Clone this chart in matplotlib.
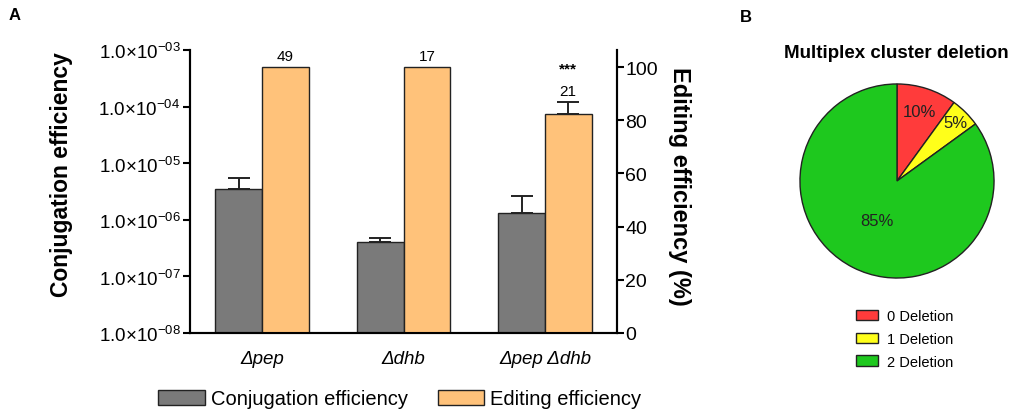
import numpy as np
import matplotlib
matplotlib.use("Agg")
import matplotlib.pyplot as plt
from matplotlib.patches import Patch

plt.rcParams['font.family'] = ['Liberation Sans', 'DejaVu Sans']
plt.rcParams['mathtext.fontset'] = 'custom'
plt.rcParams['mathtext.rm'] = 'Liberation Sans'

# data
strains = ['Δpep', 'Δdhb', 'Δpep Δdhb']
conj_eff = [3.5e-6, 4.1e-7, 1.3e-6]
conj_err = [2.0e-6, 0.7e-7, 1.3e-6]
edit_eff = [100, 100, 82.5]
edit_err = [0, 0, 4.5]
n_colonies = ['49', '17', '21']
signif = ['', '', '***']

pie_labels = ['0 Deletion', '1 Deletion', '2 Deletion']
pie_vals = [10, 5, 85]
pie_colors = ['#ff3b3b', '#ffff1a', '#1ec81e']

grey = '#7a7a7a'
orange = '#ffc27a'
edge = '#222222'

fig = plt.figure(figsize=(10.12, 4.14), dpi=100)

# ---- panel A
ax = fig.add_axes([190/1012, 1-334/414, 427/1012, 283/414])
ax.set_yscale('log')
ax.set_ylim(1e-8, 1e-3)
x = np.arange(len(strains))
w = 0.33
ax.bar(x - w/2, conj_eff, width=w, color=grey, edgecolor=edge, lw=1.0,
       yerr=[np.zeros(len(conj_err)), conj_err], capsize=8,
       error_kw=dict(elinewidth=1.4, capthick=1.4, ecolor=edge))
ax.set_xlim(-0.51, 2.51)
ax.set_yticks([1e-8, 1e-7, 1e-6, 1e-5, 1e-4, 1e-3])
ax.set_yticklabels([r'$1.0{\times}10^{-0%d}$' % k for k in [8, 7, 6, 5, 4, 3]], fontsize=13.5)
ax.yaxis.set_minor_locator(matplotlib.ticker.NullLocator())
ax.set_xticks(x)
ax.set_xticklabels(strains, style='italic', fontsize=13.5)
ax.tick_params(axis='x', length=0, pad=12)
ax.tick_params(axis='y', length=5, width=1.5, pad=2)
ax.spines['top'].set_visible(False)
for s in ['left', 'bottom', 'right']:
    ax.spines[s].set_linewidth(1.5)
fig.text(62/1012, 1-175/414, 'Conjugation efficiency', rotation=90, ha='center', va='center',
         fontsize=16.5, fontweight='bold')

ax2 = ax.twinx()
ax2.set_ylim(0, 106.4)
ax2.bar(x + w/2, edit_eff, width=w, color=orange, edgecolor=edge, lw=1.0)
for i in range(len(strains)):
    if edit_err[i] > 0:
        ax2.errorbar(x[i] + w/2, edit_eff[i], yerr=[[0], [edit_err[i]]], fmt='none',
                     ecolor=edge, elinewidth=1.4, capthick=1.4, capsize=8)
    top = edit_eff[i] + edit_err[i]
    ax2.text(x[i] + w/2, top + 1.5, n_colonies[i], ha='center', va='bottom', fontsize=11)
    if signif[i]:
        ax2.text(x[i] + w/2, top + 10, signif[i], ha='center', va='bottom', fontsize=11,
                 fontweight='bold')
ax2.set_yticks(range(0, 101, 20))
ax2.tick_params(axis='y', length=5, width=1.5, labelsize=14, pad=1)
ax2.spines['top'].set_visible(False)
for s in ['left', 'bottom', 'right']:
    ax2.spines[s].set_linewidth(1.5)
fig.text(680/1012, 1-186/414, 'Editing efficiency (%)', rotation=270, ha='center', va='center',
         fontsize=17, fontweight='bold')

handles = [Patch(facecolor=grey, edgecolor=edge, label='Conjugation efficiency'),
           Patch(facecolor=orange, edgecolor=edge, label='Editing efficiency')]
fig.legend(handles=handles, loc='center', bbox_to_anchor=(400/1012, 1-400/414), ncol=2,
           frameon=False, fontsize=14.5, handlelength=2.3, handleheight=0.8,
           handletextpad=0.3, columnspacing=1.5)

fig.text(9/1012, 1-16/414, 'A', fontsize=12, fontweight='bold', va='center')
fig.text(740/1012, 1-17/414, 'B', fontsize=12, fontweight='bold', va='center')

# ---- panel B
axp = fig.add_axes([(897-98)/1012, 1-(182+98)/414, 196/1012, 196/414])
wedges, _ = axp.pie(pie_vals, colors=pie_colors, startangle=90, counterclock=False,
                    wedgeprops=dict(edgecolor=edge, linewidth=1.0))
dists = [0.75, 0.85, 0.46]
for wd, v, d in zip(wedges, pie_vals, dists):
    ang = np.deg2rad((wd.theta1 + wd.theta2) / 2)
    axp.text(d*np.cos(ang), d*np.sin(ang), '%d%%' % v, ha='center', va='center',
             fontsize=12, color=edge)
axp.set_xlim(-1.01, 1.01)
axp.set_ylim(-1.01, 1.01)
fig.text(896/1012, 1-53/414, 'Multiplex cluster deletion', ha='center', va='center',
         fontsize=13.5, fontweight='bold')
fig.legend(handles=wedges, labels=pie_labels, loc='upper left',
           bbox_to_anchor=(843/1012, 1-297/414), frameon=False, fontsize=10.5,
           handlelength=1.5, handleheight=0.7, handletextpad=0.6, labelspacing=0.6)

fig.savefig('out.png', dpi=100)
